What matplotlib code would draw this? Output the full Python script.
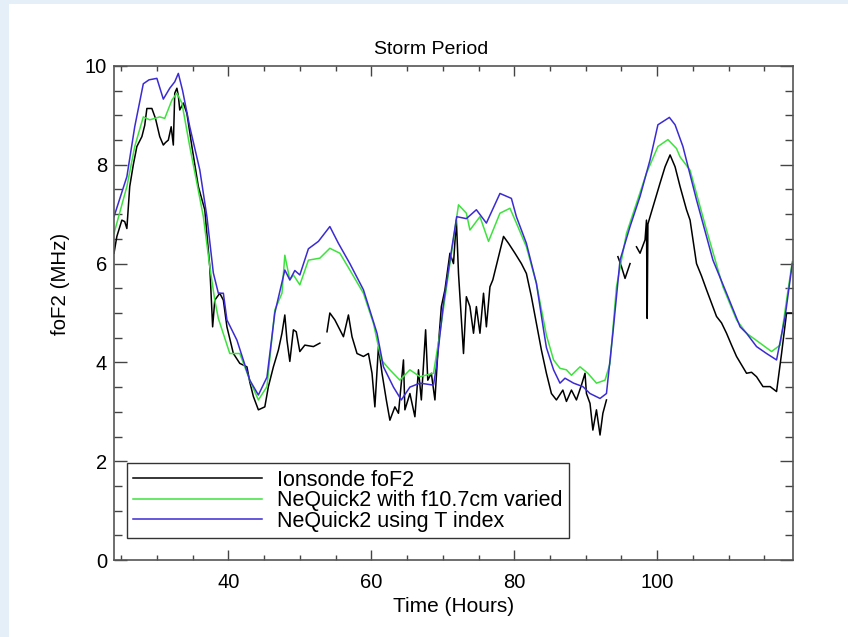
import numpy as np
import matplotlib
matplotlib.use("Agg")
import matplotlib.pyplot as plt
from matplotlib.patches import Rectangle
from matplotlib.ticker import MultipleLocator

plt.rcParams['font.family'] = ['Liberation Sans', 'DejaVu Sans']

title = "Storm Period"
xlabel = "Time (Hours)"
ylabel = "foF2 (MHz)"
labels = ["Ionsonde foF2", "NeQuick2 with f10.7cm varied", "NeQuick2 using T index"]

nan = np.nan
iono_t = [24.0, 24.4, 25.1, 25.5, 25.8, 26.2, 26.7, 27.2, 27.9, 28.3, 28.6, 29.3, 29.8, 30.4, 30.9, 31.2, 31.6, 32.0, 32.3,
          32.5, 32.8, 33.0, 33.2, 33.7, 34.2, 34.9, 35.8, 36.7, 37.4, 37.8, 38.1, 38.8, 39.3, 39.8, 40.7, 41.6, 42.6,
          43.0, 43.5, 44.2, 45.1, 45.6, 46.3, 47.0, 47.5, 47.9, 48.2, 48.6, 49.1, 49.5, 50.0, 50.7, 51.9, 52.8,
          53.3, 53.8, 54.2, 54.9, 55.4, 56.1, 56.8, 57.3, 58.0, 58.9, 59.6, 60.1, 60.5, 61.0, 61.5, 62.1, 62.6,
          63.3, 63.8, 64.5, 64.7, 65.4, 66.1, 66.6, 67.0, 67.6, 67.9, 68.4, 68.9, 69.3, 69.8, 70.3, 71.0, 71.5,
          71.9, 72.2, 72.6, 72.9, 73.3, 73.8, 74.3, 74.7, 75.2, 75.7, 76.1, 76.6, 77.0, 77.8, 78.5, 79.2, 80.1,
          81.0, 81.7, 82.4, 83.1, 83.8, 84.5, 85.2, 85.9, 86.8, 87.3, 88.0, 88.7, 89.4, 89.9, 90.1, 90.6, 91.0,
          91.5, 92.0, 92.4, 92.9, 93.6, 94.5, 95.0, 95.5, 96.2, 96.6, 97.1, 97.6, 98.3, 98.5, 98.6, 98.7, 99.0,
          99.7, 100.4, 101.1, 101.8, 102.5, 103.2, 104.1, 104.6, 105.5, 106.2, 106.9, 107.6, 108.3, 109.0, 109.7,
          110.4, 111.1, 111.8, 112.5, 113.2, 113.9, 114.8, 115.8, 116.7, 117.4, 118.1, 118.8]
iono_f = [6.21, 6.55, 6.88, 6.85, 6.71, 7.56, 8.0, 8.37, 8.57, 8.8, 9.14, 9.14, 8.94, 8.57, 8.40, 8.45, 8.50, 8.77, 8.40,
          9.45, 9.55, 9.40, 9.11, 9.25, 9.04, 8.37, 7.56, 7.09, 5.94, 4.72, 5.26, 5.40, 5.26, 4.72, 4.18, 3.98, 3.91,
          3.60, 3.31, 3.04, 3.10, 3.51, 3.91, 4.25, 4.59, 4.96, 4.45, 4.02, 4.66, 4.62, 4.22, 4.35, 4.32, 4.39,
          nan, 4.62, 5.00, 4.86, 4.72, 4.52, 4.96, 4.52, 4.18, 4.12, 4.18, 3.78, 3.10, 4.32, 3.78, 3.24, 2.83,
          3.10, 2.97, 4.05, 3.04, 3.37, 2.90, 3.85, 3.24, 4.66, 3.64, 3.78, 3.24, 4.18, 5.13, 5.47, 6.21, 6.00,
          6.88, 5.80, 4.86, 4.18, 5.33, 5.13, 4.59, 5.13, 4.59, 5.40, 4.72, 5.53, 5.67, 6.14, 6.55, 6.41, 6.21,
          6.00, 5.80, 5.33, 4.79, 4.25, 3.78, 3.37, 3.24, 3.44, 3.21, 3.44, 3.24, 3.54, 3.78, 3.37, 3.17, 2.63,
          3.04, 2.53, 2.97, 3.24, nan, 6.14, 5.94, 5.70, 6.00, nan, 6.34, 6.21, 6.48, 6.88, 4.89, 6.80, 6.95,
          7.29, 7.63, 7.96, 8.20, 7.96, 7.56, 7.09, 6.88, 6.00, 5.75, 5.47, 5.20, 4.93, 4.80, 4.59,
          4.35, 4.12, 3.95, 3.78, 3.80, 3.71, 3.51, 3.51, 3.41, 4.18, 5.00, 5.00]

f107_t = [24.0, 25.8, 26.9, 28.1, 29.0, 30.4, 31.1, 32.1, 32.8, 33.5, 34.6, 35.6, 36.5, 37.4, 38.1, 38.6, 40.2,
          41.6, 43.0, 44.2, 45.4, 46.5, 47.5, 47.9, 48.6, 49.1, 50.0, 51.2, 52.8, 54.2, 55.6, 57.0, 58.9, 60.3,
          61.4, 62.6, 64.0, 65.4, 66.8, 68.7, 69.6, 71.0, 72.2, 73.3, 73.8, 75.2, 76.4, 78.0, 79.4, 80.3, 81.7,
          83.1, 84.5, 85.5, 86.4, 87.3, 88.0, 89.2, 90.3, 91.5, 92.7, 93.4, 94.3, 95.7, 97.1, 98.5, 100.1, 101.5,
          102.7, 103.2, 104.6, 106.9, 109.2, 111.1, 112.5, 114.4, 116.0, 117.2, 118.1, 118.9]
f107_f = [6.61, 7.56, 8.37, 8.97, 8.91, 8.97, 8.94, 9.31, 9.45, 9.25, 8.37, 7.63, 6.95, 5.94, 5.26, 4.89, 4.18,
          4.18, 3.64, 3.24, 3.51, 5.06, 5.40, 6.17, 5.67, 5.77, 5.57, 6.07, 6.11, 6.31, 6.21, 5.87, 5.40, 4.79,
          4.05, 3.85, 3.64, 3.85, 3.71, 3.78, 4.59, 6.00, 7.19, 7.02, 6.68, 6.95, 6.45, 7.02, 7.12, 6.82, 6.34,
          5.60, 4.55, 4.05, 3.88, 3.85, 3.74, 3.91, 3.78, 3.58, 3.64, 3.98, 5.53, 6.61, 7.22, 7.83, 8.37, 8.51,
          8.33, 8.16, 7.89, 6.68, 5.53, 4.86, 4.59, 4.39, 4.22, 4.35, 5.26, 6.04]

tidx_t = [24.0, 25.8, 26.9, 28.1, 28.9, 30.0, 30.9, 31.8, 32.5, 33.0, 33.6, 34.6, 36.0, 37.0, 37.9, 38.6, 39.3,
          39.8, 41.2, 43.0, 44.2, 45.4, 46.5, 47.9, 48.6, 49.3, 50.0, 51.2, 52.6, 54.2, 55.4, 57.0, 58.9, 60.8,
          61.7, 63.1, 64.2, 65.4, 66.8, 68.7, 69.1, 70.1, 71.0, 71.95, 73.3, 74.7, 76.1, 78.0, 79.6, 80.3, 81.7,
          83.1, 84.1, 84.5, 85.5, 86.4, 87.1, 88.3, 89.6, 90.6, 92.0, 92.9, 93.8, 94.8, 96.2, 97.6, 99.0, 100.1,
          101.5, 101.7, 102.5, 103.6, 105.5, 107.8, 109.7, 111.6, 112.5, 113.9, 115.3, 116.7, 117.9, 118.9]
tidx_f = [6.95, 7.76, 8.77, 9.64, 9.72, 9.75, 9.33, 9.55, 9.68, 9.85, 9.50, 8.77, 7.90, 6.95, 5.81, 5.40, 5.40,
          4.86, 4.45, 3.64, 3.34, 3.70, 5.00, 5.87, 5.67, 5.86, 5.77, 6.30, 6.45, 6.75, 6.41, 6.00, 5.47, 4.59,
          3.91, 3.50, 3.24, 3.50, 3.58, 3.54, 3.91, 5.20, 6.07, 6.95, 6.91, 7.09, 6.82, 7.42, 7.32, 6.95, 6.41,
          5.60, 4.66, 4.30, 3.85, 3.58, 3.68, 3.58, 3.51, 3.37, 3.27, 3.37, 4.59, 6.07, 6.75, 7.36, 8.10, 8.81,
          8.94, 8.96, 8.81, 8.37, 7.29, 6.07, 5.40, 4.72, 4.59, 4.32, 4.18, 4.05, 4.93, 6.00]

W, H = 848, 637
fig = plt.figure(figsize=(W / 100, H / 100), dpi=100)
fig.patch.set_facecolor('white')
fig.patches.append(Rectangle((0, (H - 4) / H), 1, 4 / H, transform=fig.transFigure,
                             facecolor='#e4eff7', edgecolor='none', zorder=-10))
fig.patches.append(Rectangle((0, 0), 9 / W, 1, transform=fig.transFigure,
                             facecolor='#e4eff7', edgecolor='none', zorder=-10))

ax = fig.add_axes([114 / W, 1 - 560 / H, (793 - 114) / W, (560 - 66) / H])
ax.plot(iono_t, iono_f, color='black', lw=1.1, label=labels[0])
ax.plot(f107_t, f107_f, color='#3ee23e', lw=1.1, label=labels[1])
ax.plot(tidx_t, tidx_f, color='#3b2bd2', lw=1.1, label=labels[2])

ax.set_xlim(24, 119)
ax.set_ylim(0, 10)
ax.xaxis.set_major_locator(MultipleLocator(20))
ax.xaxis.set_minor_locator(MultipleLocator(5))
ax.yaxis.set_major_locator(MultipleLocator(2))
ax.yaxis.set_minor_locator(MultipleLocator(0.5))
ax.tick_params(axis='both', which='both', direction='in', top=True, right=True,
               colors='#444444', labelcolor='black', labelsize=14.5, width=1)
ax.tick_params(axis='x', which='major', length=7.5, pad=9)
ax.tick_params(axis='x', which='minor', length=3.8)
ax.tick_params(axis='y', which='major', length=9.5, pad=5)
ax.tick_params(axis='y', which='minor', length=5.8)
for s in ax.spines.values():
    s.set_color('#555555')
    s.set_linewidth(1.2)

ax.set_title(title, fontsize=14, pad=9, x=(431 - 114) / (793 - 114))
ax.set_xlabel(xlabel, fontsize=15, labelpad=4)
ax.set_ylabel(ylabel, fontsize=14.8)
ax.yaxis.set_label_coords((70 - 114) / 679, (560 - 284) / 494)

leg = ax.legend(loc='lower left', bbox_to_anchor=(0.0187, 0.0439), borderaxespad=0,
                fontsize=15.5, handlelength=6.0, handletextpad=0.7, labelspacing=-0.02,
                borderpad=0.3, fancybox=False, framealpha=1, edgecolor='#333333')
leg.get_frame().set_linewidth(1.0)

fig.savefig('out.png', dpi=100, facecolor=fig.get_facecolor())
